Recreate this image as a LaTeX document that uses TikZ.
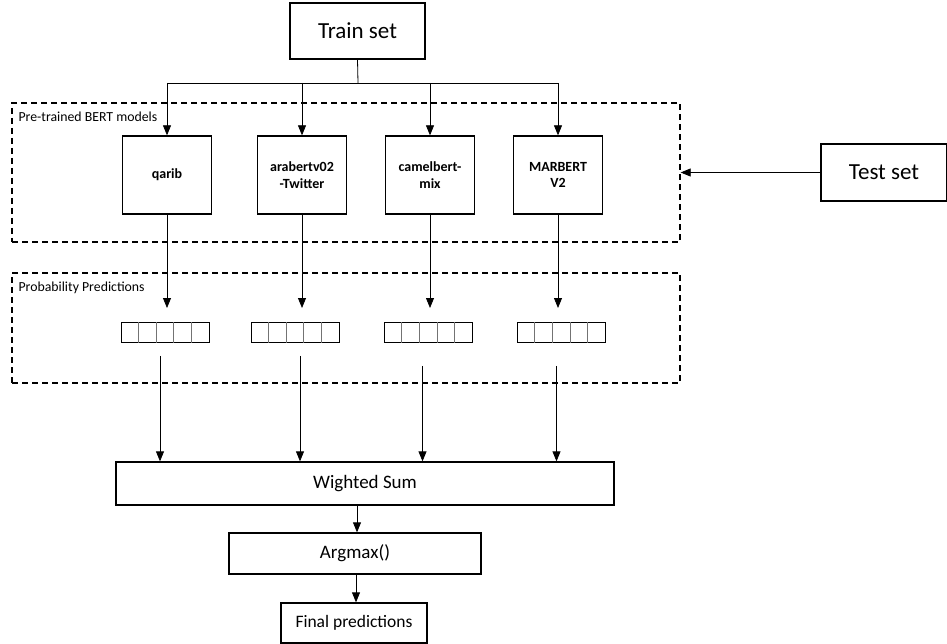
\documentclass[tikz,border=0pt]{standalone}
\usepackage{fontspec}
\setmainfont{Carlito}
\usetikzlibrary{arrows.meta,positioning,fit}

\tikzset{
  box/.style={draw, line width=1.3pt, rectangle, inner sep=2pt, align=center},
  modelbox/.style={box, minimum width=89pt, minimum height=78pt, font=\fontsize{14}{16.5}\selectfont\bfseries},
  groupbox/.style={draw, line width=1.3pt, dash pattern=on 6pt off 4pt, inner sep=0pt},
  vecbox/.style={draw, line width=0.8pt, minimum width=88pt, minimum height=20pt, inner sep=0pt},
  grouplabel/.style={anchor=north west, inner sep=0pt, xshift=7pt, yshift=-9pt, font=\fontsize{13.8}{16}\selectfont},
  flow/.style={-{Triangle[length=10pt,width=8pt]}, line width=0.8pt},
}

\begin{document}
\begin{tikzpicture}[x=1pt,y=-1pt]
  \useasboundingbox (0,0) rectangle (947,644);

  % ~~~~ Grupos ~~~~ %
  \node[groupbox, fit={(12,103) (680,242)}] (pretrained) {};
  \node[grouplabel] (pretrainedlabel) at (pretrained.north west) {Pre-trained BERT models};
  \node[groupbox, fit={(12,273) (680,383)}] (probs) {};
  \node[grouplabel] (probslabel) at (probs.north west) {Probability Predictions};

  % ~~~~ Datos ~~~~ %
  \node[box, minimum width=135pt, minimum height=56pt, font=\fontsize{23}{26}\selectfont] (train) at (357.5,31) {Train set};
  \node[box, minimum width=126pt, minimum height=57pt, font=\fontsize{23}{26}\selectfont] (test) at (884,172.5) {Test set};

  % ~~~~ Modelos ~~~~ %
  \node[modelbox] (qarib) at (167,175) {qarib};
  \node[modelbox] (arabert) at (302,175) {arabertv02\\-Twitter};
  \node[modelbox] (camel) at (430,175) {camelbert-\\mix};
  \node[modelbox] (marbert) at (558,175) {MARBERT\\V2};

  % ~~~~ Vectores ~~~~ %
  \foreach \name/\x in {vqarib/165, varabert/295, vcamel/428.5, vmarbert/561.5} {
    \node[vecbox] (\name) at (\x,332.5) {};
    \foreach \k in {1,...,4}
      \draw[line width=0.6pt, black!55] ([xshift=\k*17.6pt]\name.north west) -- ([xshift=\k*17.6pt]\name.south west);
  }

  % ~~~~ Combinacion ~~~~ %
  \node[box, minimum width=498pt, minimum height=43pt, font=\fontsize{19}{22}\selectfont] (wsum) at (365,483.5) {Wighted Sum};
  \node[box, minimum width=252pt, minimum height=41pt, font=\fontsize{19}{22}\selectfont] (argmax) at (355,553.5) {Argmax()};
  \node[box, minimum width=146pt, minimum height=40pt, font=\fontsize{17.5}{20}\selectfont] (final) at (354,623) {Final predictions};

  % ~~~~ Flechas ~~~~ %
  \coordinate (bus) at (358,83);
  \draw[line width=0.8pt] (train.south) -- (bus);
  \draw[line width=0.8pt] (qarib.north |- bus) -- (marbert.north |- bus);
  \foreach \m in {qarib, arabert, camel, marbert}
    \draw[flow] (\m.north |- bus) -- (\m.north);

  \draw[flow] (test.west) -- (test.west -| pretrained.east);

  \foreach \m in {qarib, arabert, camel, marbert}
    \draw[flow] (\m.south) -- (\m.south |- 0,308);

  \coordinate (sq) at ([xshift=-5pt,yshift=-13pt]vqarib.south);
  \coordinate (sa) at ([xshift=5pt,yshift=-13pt]varabert.south);
  \coordinate (sc) at ([xshift=-6pt,yshift=-23pt]vcamel.south);
  \coordinate (sm) at ([xshift=-5pt,yshift=-23pt]vmarbert.south);
  \foreach \s in {sq, sa, sc, sm}
    \draw[flow] (\s) -- (\s |- wsum.north);

  \draw[flow] (wsum.south -| 357,0) -- (argmax.north -| 357,0);
  \draw[flow] (argmax.south -| 356,0) -- (final.north -| 356,0);
\end{tikzpicture}
\end{document}
